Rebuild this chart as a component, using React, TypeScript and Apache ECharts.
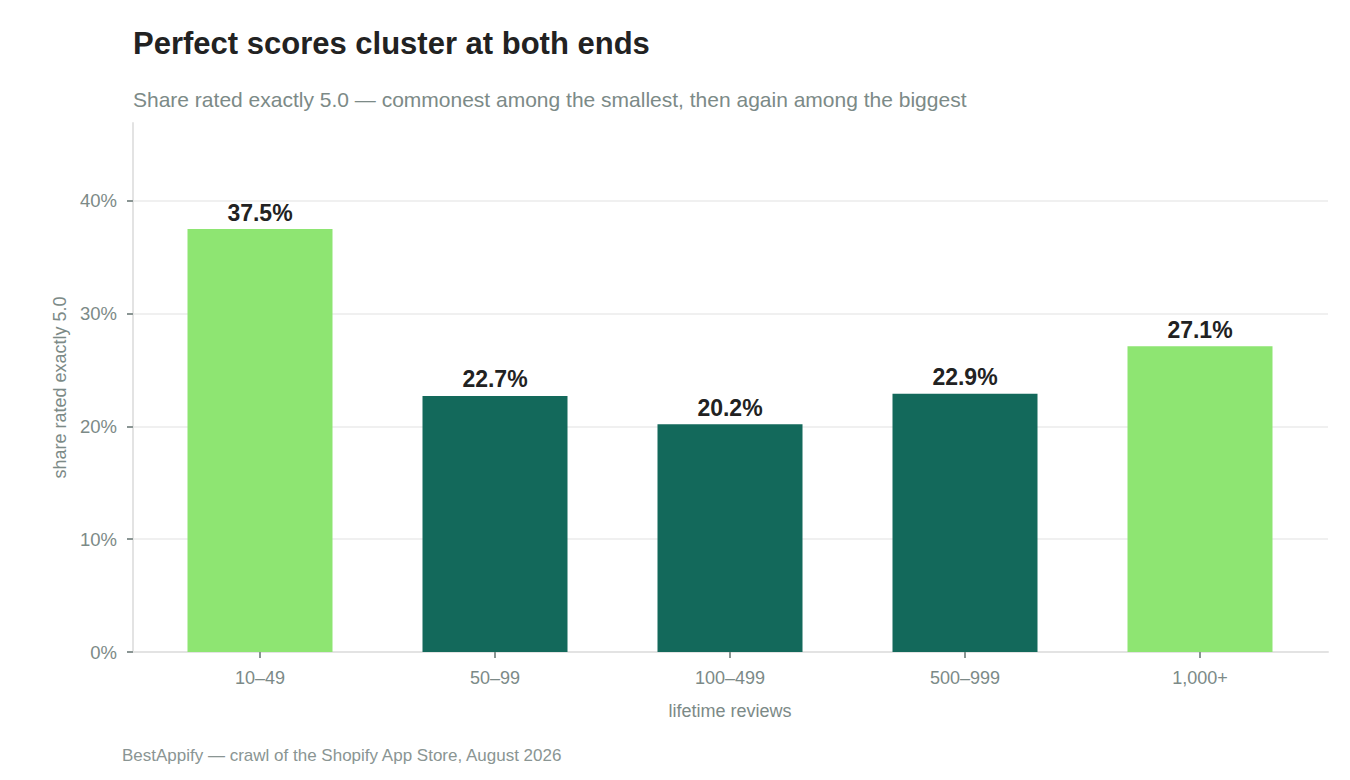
import React, { useEffect, useRef } from "react";
import * as echarts from "echarts";

const categories = ["10–49", "50–99", "100–499", "500–999", "1,000+"];
const shareFive = [37.5, 22.7, 20.2, 22.9, 27.1];
const highlighted = ["10–49", "1,000+"];
const yTicks = [0, 10, 20, 30, 40];

const TITLE = "Perfect scores cluster at both ends";
const SUBTITLE =
  "Share rated exactly 5.0 — commonest among the smallest, then again among the biggest";
const FOOTER = "BestAppify — crawl of the Shopify App Store, August 2026";

const FONT = "'Liberation Sans', Arial, Helvetica, sans-serif";
const LIGHT = "#8ee572";
const DARK = "#13695b";
const GRAY = "#7c8a87";

export default function App() {
  const ref = useRef<HTMLDivElement>(null);
  useEffect(() => {
    if (!ref.current) return;
    const chart = echarts.init(ref.current, undefined, { renderer: "svg" });
    const yMax = 46.9;
    const gridTop = 123;
    const gridBottom = 128;
    chart.setOption({
      animation: false,
      backgroundColor: "#ffffff",
      textStyle: { fontFamily: FONT },
      title: [
        {
          text: TITLE,
          left: 133,
          top: 28,
          padding: 0,
          textStyle: { fontSize: 31, fontWeight: "bold", color: "#222222", fontFamily: FONT },
        },
        {
          text: SUBTITLE,
          left: 133,
          top: 89,
          padding: 0,
          textStyle: { fontSize: 21, fontWeight: "normal", color: GRAY, fontFamily: FONT },
        },
        {
          text: FOOTER,
          left: 122,
          top: 747,
          padding: 0,
          textStyle: { fontSize: 17, fontWeight: "normal", color: "#8a9593", fontFamily: FONT },
        },
      ],
      grid: [
        { left: 133, right: 22, top: gridTop, bottom: gridBottom },
        { left: 142.5, right: 32.5, top: gridTop, bottom: gridBottom },
      ],
      xAxis: [
        {
          type: "value",
          gridIndex: 0,
          min: 0,
          max: 1,
          axisLine: { show: true, lineStyle: { color: "#e3e3e3", width: 2 } },
          axisTick: { show: false },
          axisLabel: { show: false },
          splitLine: { show: false },
        },
        {
          type: "category",
          gridIndex: 1,
          data: categories,
          axisLine: { show: false },
          axisTick: {
            show: true,
            alignWithLabel: true,
            length: 6,
            lineStyle: { color: "#8a9593", width: 2 },
          },
          axisLabel: { color: GRAY, fontSize: 18, margin: 17, fontFamily: FONT },
          name: "lifetime reviews",
          nameLocation: "middle",
          nameGap: 50,
          nameTextStyle: { color: GRAY, fontSize: 18, fontFamily: FONT },
        },
      ],
      yAxis: [
        {
          type: "value",
          gridIndex: 0,
          min: 0,
          max: yMax,
          interval: 10,
          axisLine: { show: true, lineStyle: { color: "#e3e3e3", width: 2 } },
          axisTick: { show: true, length: 6, lineStyle: { color: "#8a9593", width: 2 } },
          axisLabel: {
            color: GRAY,
            fontSize: 18.5,
            margin: 16,
            fontFamily: FONT,
            showMaxLabel: false,
            formatter: (v: number) => (yTicks.includes(v) ? `${v}%` : ""),
          },
          splitLine: {
            show: true,
            lineStyle: {
              color: [...yTicks.map(() => "#f0f0f0"), "rgba(0,0,0,0)"],
              width: 2,
            },
          },
          name: "share rated exactly 5.0",
          nameLocation: "middle",
          nameGap: 61,
          nameTextStyle: { color: GRAY, fontSize: 18, fontFamily: FONT },
        },
        {
          type: "value",
          gridIndex: 1,
          min: 0,
          max: yMax,
          interval: 10,
          show: false,
          splitLine: { show: false },
        },
      ],
      series: [
        {
          type: "bar",
          xAxisIndex: 1,
          yAxisIndex: 1,
          barWidth: 145,
          data: shareFive.map((v, i) => ({
            value: v,
            itemStyle: { color: highlighted.includes(categories[i]) ? LIGHT : DARK },
          })),
          label: {
            show: true,
            position: "top",
            distance: 5,
            color: "#222222",
            fontSize: 23,
            fontWeight: "bold",
            fontFamily: FONT,
            formatter: (p: any) => `${Number(p.value).toFixed(1)}%`,
          },
        },
      ],
    });
    return () => chart.dispose();
  }, []);
  return (
    <div
      ref={ref}
      style={{ position: "fixed", left: 0, top: 0, width: 1350, height: 780 }}
    />
  );
}
